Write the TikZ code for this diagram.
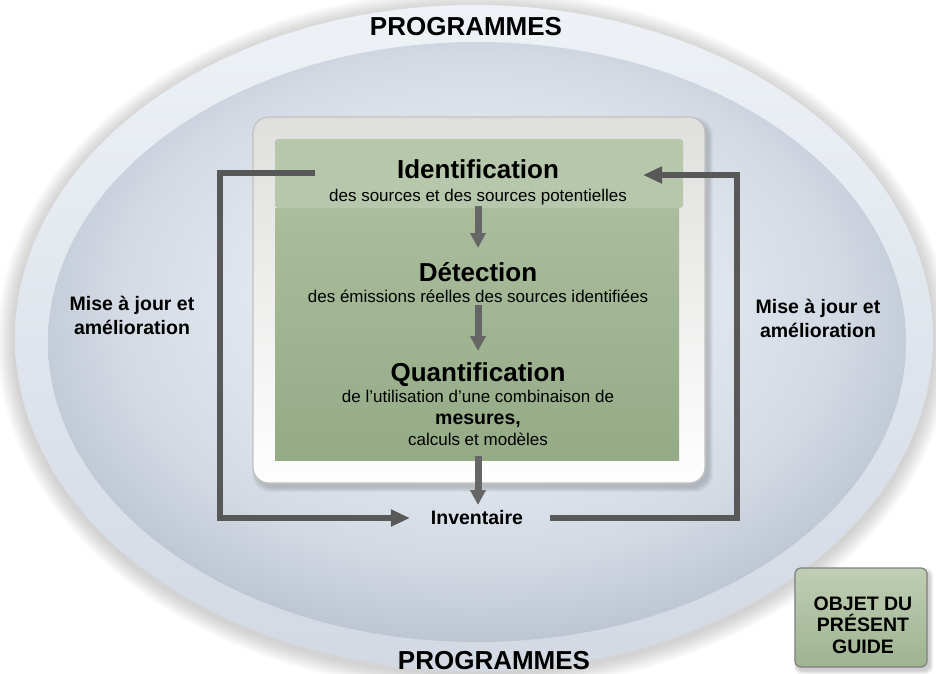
\documentclass[tikz,border=0pt]{standalone}
\usepackage{fontspec}
\setmainfont{Liberation Sans}
\usetikzlibrary{arrows.meta}

% palette
\definecolor{ringTop}{HTML}{EEF2F7}
\definecolor{ringBot}{HTML}{D2D9E3}
\definecolor{domeA}{HTML}{ECEFF4}
\definecolor{domeB}{HTML}{E3E8EF}
\definecolor{domeC}{HTML}{D3DAE4}
\definecolor{domeD}{HTML}{B7C0CD}
\definecolor{frameT}{HTML}{DFDFDD}
\definecolor{frameM}{HTML}{F3F3F1}
\definecolor{frameB}{HTML}{FEFEFE}
\definecolor{frameline}{HTML}{C2C2C0}
\definecolor{bandc}{HTML}{B6C7AB}
\definecolor{greenT}{HTML}{AABD9D}
\definecolor{greenB}{HTML}{94AB86}
\definecolor{objT}{HTML}{C0CEB4}
\definecolor{objB}{HTML}{9EB390}
\definecolor{objline}{HTML}{7F7F7F}
\definecolor{linec}{HTML}{585858}
\definecolor{arrowc}{HTML}{666666}

% dome shading of the inner oval, lit from slightly above centre
\pgfdeclareradialshading{domeshade}{\pgfpoint{0bp}{5bp}}{%
  color(0bp)=(domeA); color(12bp)=(domeB); color(21bp)=(domeC);
  color(29bp)=(domeD); color(50bp)=(domeD)}

\begin{document}
\begin{tikzpicture}[x=1pt,y=-1pt,
  every node/.style={inner sep=0pt, outer sep=0pt, align=center, text=black},
  headtxt/.style={font=\fontsize{26}{30}\selectfont\bfseries},
  subtxt/.style={font=\fontsize{17}{21}\selectfont},
  labtxt/.style={font=\fontsize{19.5}{24}\selectfont\bfseries},
  flowline/.style={draw=linec, line width=5.5pt},
  flowarrow/.style={flowline, -{Triangle[length=19pt,width=16pt]}},
  downarrow/.style={draw=arrowc, line width=7pt, -{Triangle[length=15pt,width=15pt]}},
]
\useasboundingbox (0,0) rectangle (936,673);

% soft shadow around the big oval
\foreach \k in {1,...,12}
  \fill[black, opacity=0.016] (474,341) ellipse [x radius=459+1.5*\k, y radius=333+1.5*\k];

% outer ring and inner dome
\shade[top color=ringTop, bottom color=ringBot] (474,338) ellipse [x radius=459, y radius=333];
\shade[shading=domeshade] (477,342) ellipse [x radius=429, y radius=300];

% central white frame with its shadow
\foreach \k in {1,...,5}
  \fill[black, opacity=0.035, rounded corners=18pt]
    (253+4-\k,117+5-\k) rectangle (705+3+\k,483+4+\k);
\draw[frameline, line width=1.2pt, rounded corners=16pt,
      top color=frameT, middle color=frameM, bottom color=frameB]
  (253,117) rectangle (705,483);

% green panels
\fill[bandc, rounded corners=3pt] (275,139) rectangle (683,208);
\shade[top color=greenT, bottom color=greenB] (275,208) rectangle (679,460);

% steps
\node[headtxt, anchor=base] (ident) at (478,178) {Identification};
\node[subtxt, anchor=base] (identsub) at (478,201) {des sources et des sources potentielles};
\node[headtxt, anchor=base] (detect) at (478,281) {Détection};
\node[subtxt, anchor=base] (detectsub) at (478,302) {des émissions réelles des sources identifiées};
\node[headtxt, anchor=base] (quant) at (478,381) {Quantification};
\node[subtxt, anchor=base] (quantsub) at (478,402) {de l’utilisation d’une combinaison de};
\node[labtxt, anchor=base] (mes) at (478,424) {mesures,};
\node[subtxt, anchor=base] (calc) at (478,445) {calculs et modèles};

% vertical step arrows
\coordinate (a1s) at (478,206); \coordinate (a1e) at (478,248);
\coordinate (a2s) at (478,305); \coordinate (a2e) at (478,351);
\coordinate (a3s) at (478,456); \coordinate (a3e) at (478,505);
\draw[downarrow] (a1s) -- (a1e);
\draw[downarrow] (a2s) -- (a2e);
\draw[downarrow] (a3s) -- (a3e);

% inventory and feedback loops
\node[labtxt] (inv) at (477,518) {Inventaire};
\coordinate (lstart) at (315,173);
\coordinate (lcorner) at (220,173);
\coordinate (rcorner) at (737,175);
\coordinate (rend) at (643,175);
\draw[flowarrow, line join=miter] (lstart) -- (lcorner) |- ([xshift=-21pt]inv.west);
\draw[flowarrow, line join=miter] ([xshift=27pt]inv.east) -| (rcorner) -- (rend);

% the base anchor of a two-line node sits on its last line
\node[labtxt, anchor=base] (updL) at (132,334) {Mise à jour et\\amélioration};
\node[labtxt, anchor=base] (updR) at (818,337) {Mise à jour et\\amélioration};

% programme labels
\node[headtxt, anchor=base] (progtop) at (466,35) {PROGRAMMES};
\node[headtxt, anchor=base] (progbot) at (494,669) {PROGRAMMES};

% scope box
\foreach \k in {1,...,4}
  \fill[black, opacity=0.05, rounded corners=7pt]
    (795+3-\k,568+4-\k) rectangle (927+2+\k,667+3+\k);
\draw[objline, line width=1.2pt, rounded corners=6pt, top color=objT, bottom color=objB]
  (795,568) rectangle (927,667);
\node[labtxt, anchor=base, font=\fontsize{19.5}{21.5}\selectfont\bfseries] (scope) at (863,653)
  {OBJET DU\\PRÉSENT\\GUIDE};
\end{tikzpicture}
\end{document}
